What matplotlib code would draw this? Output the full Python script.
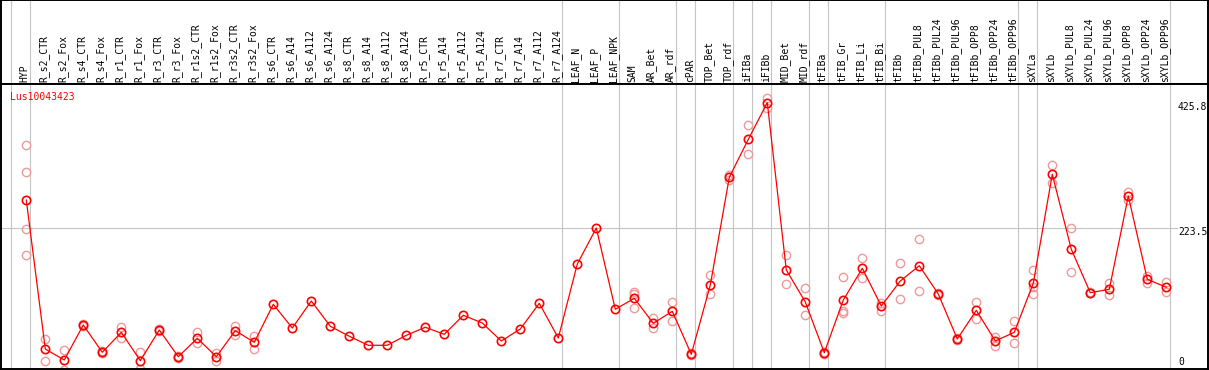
import matplotlib
matplotlib.use("Agg")
import matplotlib.pyplot as plt

gene = "Lus10043423"

labels = ["HYP", "R_s2_CTR", "R_s2_Fox", "R_s4_CTR", "R_s4_Fox", "R_r1_CTR", "R_r1_Fox",
          "R_r3_CTR", "R_r3_Fox", "R_r1s2_CTR", "R_r1s2_Fox", "R_r3s2_CTR", "R_r3s2_Fox",
          "R_s6_CTR", "R_s6_A14", "R_s6_A112", "R_s6_A124", "R_s8_CTR", "R_s8_A14",
          "R_s8_A112", "R_s8_A124", "R_r5_CTR", "R_r5_A14", "R_r5_A112", "R_r5_A124",
          "R_r7_CTR", "R_r7_A14", "R_r7_A112", "R_r7_A124", "LEAF_N", "LEAF_P", "LEAF_NPK",
          "SAM", "AR_Bet", "AR_rdf", "cPAR", "TOP_Bet", "TOP_rdf", "iFIBa", "iFIBb",
          "MID_Bet", "MID_rdf", "tFIBa", "tFIB_Gr", "tFIB_Li", "tFIB_Bi", "tFIBb",
          "tFIBb_PUL8", "tFIBb_PUL24", "tFIBb_PUL96", "tFIBb_OPP8", "tFIBb_OPP24",
          "tFIBb_OPP96", "sXYLa", "sXYLb", "sXYLb_PUL8", "sXYLb_PUL24", "sXYLb_PUL96",
          "sXYLb_OPP8", "sXYLb_OPP24", "sXYLb_OPP96"]

means = [269, 29, 11.3, 67.7, 23.7, 55.9, 10.2, 59.6, 16.6, 46.2, 16.6, 58.5, 39.8,
         101, 62.8, 106.3, 65.6, 49.5, 35, 35, 51, 64, 52.7, 83.3, 70.9, 41.9, 61.2,
         102.6, 46.7, 165.9, 223.9, 93, 110.7, 70.4, 89.7, 20.5, 132, 305.6, 366.8,
         425.8, 156.3, 104.7, 23, 107.9, 159, 98.3, 138.5, 163.2, 117.6, 45.1, 91.3,
         41.9, 55.9, 134.8, 310.4, 189.6, 119.7, 125.2, 275.5, 141.3, 128.4]

replicates = [[357.6, 313.6, 221.8, 180], [44.6, 10], [27.4, -4.8], [69, 66.5], [25, 22.5],
              [64, 47.2], [23.7, -3.3], [61, 58.2], [18, 15.2], [55.9, 38.2], [22, 9.5],
              [66, 51.6], [50.4, 28.5], [], [], [], [], [], [], [], [], [], [], [], [],
              [], [], [], [], [], [], [], [121.3, 117, 94.6], [78.5, 62.3], [104.2, 73.6],
              [22, 19], [148.2, 117.6], [309, 302], [389.9, 343], [432.9, 416.8],
              [180.4, 133.7], [126.8, 83.3], [24.5, 21.5], [144.5, 87.5, 90],
              [175.1, 142.9], [103.6, 90.2], [167, 109], [205.7, 122], [119.5, 115.5],
              [47, 43], [104.7, 76.8], [47.8, 33.8], [73.6, 38.2], [156.8, 117.6, 129.4],
              [325.4, 296.9], [223.4, 153.5], [121, 118.5], [134.8, 116], [282.4, 269],
              [146.6, 135.8], [137.4, 121.3]]

# group separators: after these column indices
separators = [-1, 0, 28, 31, 34, 35, 37, 38, 39, 41, 42, 45, 52, 53, 60]

ytick_values = [425.8, 223.5, 0]
ytick_labels = ["425.8", "223.5", "0"]
grid_values = [223.5]

W, H = 1209, 370
fig = plt.figure(figsize=(W / 100, H / 100), dpi=100)

px0, px1 = 1, 1208
ysep = 84
ybot = 369

def fx(p):
    return p / W

def fy(p):
    return 1 - p / H

ax_h = fig.add_axes([fx(px0), fy(ysep), fx(px1 - px0), (ysep - 0) / H])
ax = fig.add_axes([fx(px0), fy(ybot), fx(px1 - px0), (ybot - ysep) / H])

colw = 19.0
x0px = 26.3
xlim = ((px0 - x0px) / colw, (px1 - x0px) / colw)
per_px = 425.8 / (367 - 102.7)
ylim = (-(ybot - 367) * per_px, (367 - ysep) * per_px)

for a in (ax, ax_h):
    a.set_xlim(*xlim)
    a.set_xticks([])
    a.set_yticks([])
    for s in a.spines.values():
        s.set_linewidth(1.4)
        s.set_color("black")
    for sidx in separators:
        a.axvline(sidx + 4 / colw, color="#c4c4c4", lw=0.8, zorder=0)

ax.set_ylim(*ylim)
ax_h.set_ylim(0, 1)

# header labels
for i, lab in enumerate(labels):
    ax_h.text(i - 1.5 / colw, 0.02, lab, rotation=90, ha="center", va="bottom",
              fontsize=7, family="DejaVu Sans Mono", color="black")

xs = list(range(len(labels)))

# horizontal grid
for gv in grid_values:
    ax.plot([xlim[0], (1177 - x0px) / colw], [gv, gv], color="#c4c4c4", lw=0.8, zorder=0)

# replicates
rx, ry = [], []
for i, reps in enumerate(replicates):
    for r in reps:
        rx.append(i)
        ry.append(r)
ax.plot(rx, ry, linestyle="none", marker="o", markersize=6, markerfacecolor="none",
        markeredgecolor="#ef9a9a", markeredgewidth=1.0, zorder=2)

# mean line
ax.plot(xs, means, color="red", lw=0.9, marker="o", markersize=6,
        markerfacecolor="none", markeredgecolor="red", markeredgewidth=1.2, zorder=3)

# gene name
ax.text((9.7 - px0) / (px1 - px0), 1 - (96.7 - ysep) / (ybot - ysep), gene,
        transform=ax.transAxes, ha="left", va="center", fontsize=7,
        family="DejaVu Sans Mono", color="red")

# right axis labels (pixel offsets of label centre from value)
offsets = [-4, -4, 5]
for v, t, off in zip(ytick_values, ytick_labels, offsets):
    ax.annotate(t, xy=((1178 - x0px) / colw, v), xytext=(0, off),
                textcoords="offset pixels", ha="left", va="center", fontsize=7,
                family="DejaVu Sans Mono", color="black", annotation_clip=False)

fig.savefig("out.png", dpi=100)
